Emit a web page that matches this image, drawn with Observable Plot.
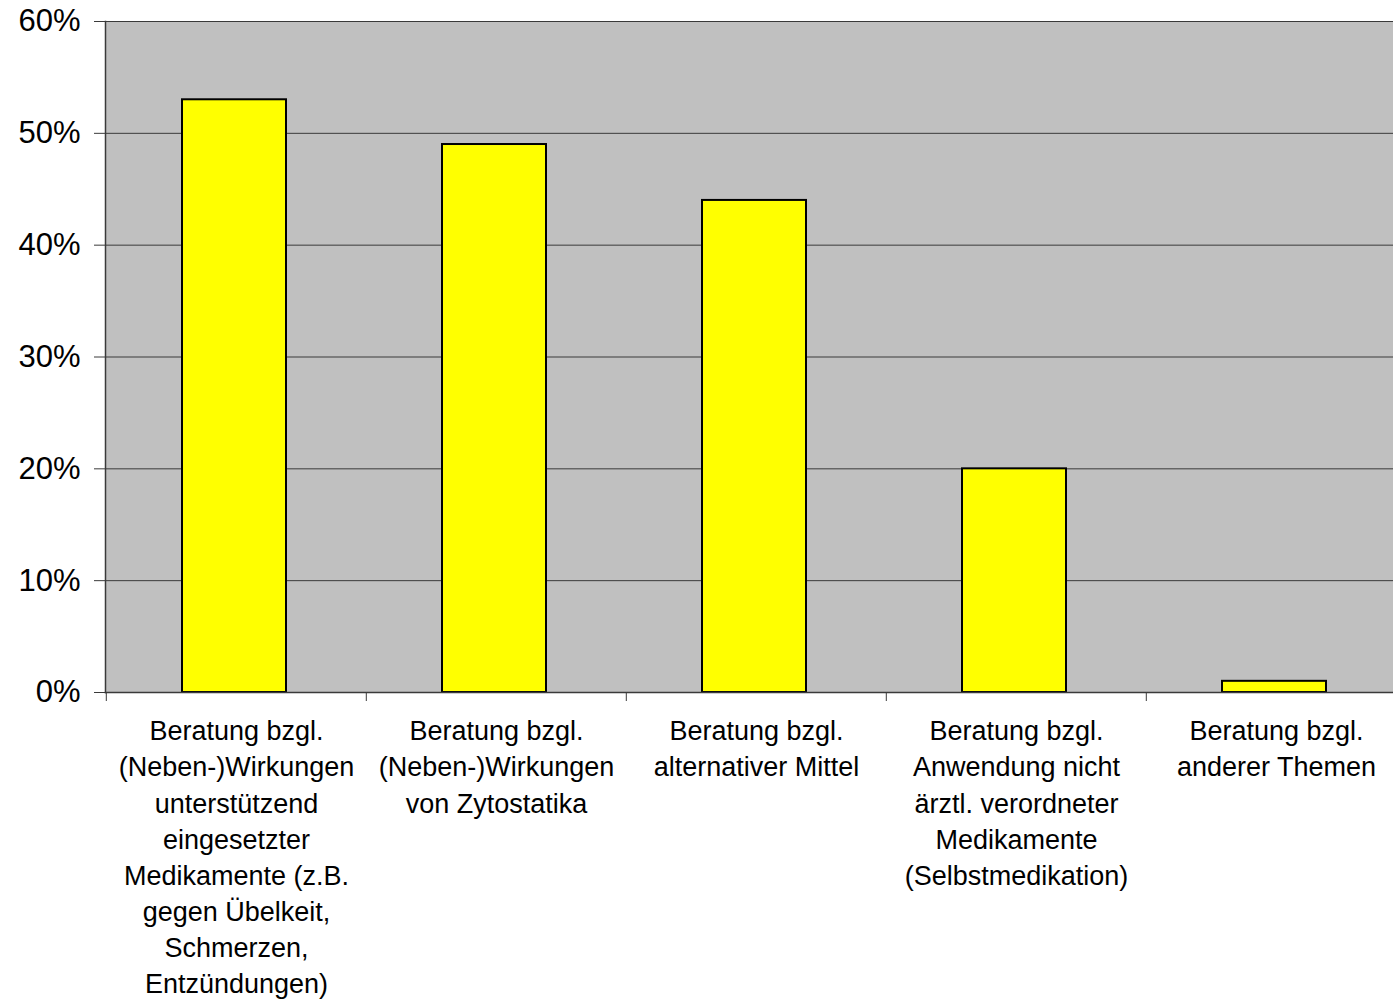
<!DOCTYPE html>
<html>
<head>
<meta charset="utf-8">
<script src="https://cdn.jsdelivr.net/npm/d3@7"></script>
<script src="https://cdn.jsdelivr.net/npm/@observablehq/plot@0.6"></script>
<style>
  html, body { margin: 0; padding: 0; background: white; }
</style>
</head>
<body>
<div id="chart"></div>
<script>
const categories = [
  "Beratung bzgl.\n(Neben-)Wirkungen\nunterstützend\neingesetzter\nMedikamente (z.B.\ngegen Übelkeit,\nSchmerzen,\nEntzündungen)",
  "Beratung bzgl.\n(Neben-)Wirkungen\nvon Zytostatika",
  "Beratung bzgl.\nalternativer Mittel",
  "Beratung bzgl.\nAnwendung nicht\närztl. verordneter\nMedikamente\n(Selbstmedikation)",
  "Beratung bzgl.\nanderer Themen"
];
const values = [53, 49, 44, 20, 1];
const yTicks = [0, 10, 20, 30, 40, 50, 60];

const data = categories.map((c, i) => ({cat: c, value: values[i]}));

const left = 105, right = 1407;
const step = (right - left) / categories.length;

const chart = Plot.plot({
  width: 1393,
  height: 1002,
  marginTop: 21,
  marginLeft: left,
  marginRight: 0,
  marginBottom: 310,
  style: {fontFamily: "'Liberation Sans', Arial, sans-serif", fontSize: "28px", color: "black", background: "white"},
  x: {domain: categories, range: [left, right], padding: 0, axis: null, label: null},
  y: {domain: [0, 60], axis: null, label: null},
  marks: [
    Plot.frame({fill: "#c0c0c0", stroke: null}),
    Plot.gridY(yTicks, {stroke: "#3a3a3a", strokeOpacity: 1, strokeWidth: 1}),
    Plot.barY(data, {x: "cat", y: "value", fill: "#ffff00", stroke: "black", strokeWidth: 2, insetLeft: 78, insetRight: 78, dx: -2}),
    Plot.frame({anchor: "left", stroke: "#3a3a3a", strokeWidth: 1.5}),
    Plot.frame({anchor: "bottom", stroke: "#3a3a3a", strokeWidth: 1.5}),
    Plot.axisY(yTicks, {tickFormat: d => d + "%", tickSize: 11, tickPadding: 14, fontSize: 31, stroke: "#3a3a3a", label: null}),
    Plot.axisX({tickSize: 0, tickPadding: 22, lineHeight: 1.34, fontSize: 27, label: null}),
    Plot.axisX({tickSize: 9, text: null, dx: -step / 2, stroke: "#3a3a3a", label: null})
  ]
});

document.getElementById("chart").appendChild(chart);
</script>
</body>
</html>
